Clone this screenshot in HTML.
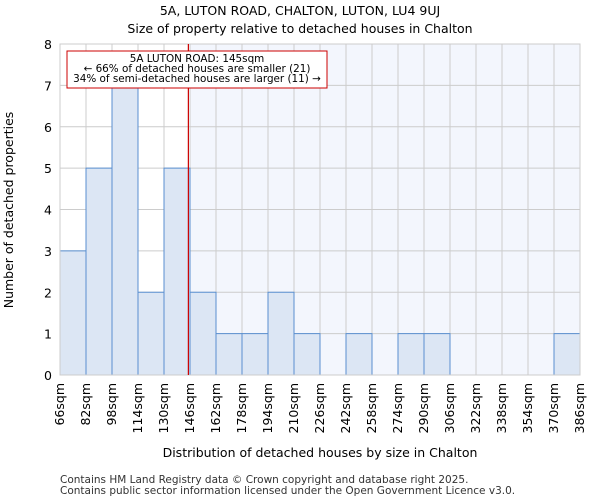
<!DOCTYPE html>
<html><head><meta charset="utf-8">
<style>body{margin:0;background:#fff;font-family:"DejaVu Sans","Liberation Sans",sans-serif}</style></head>
<body>
<svg id="chart" width="600" height="500" xmlns="http://www.w3.org/2000/svg" font-family="DejaVu Sans, Liberation Sans, sans-serif">
<text x="300" y="15" text-anchor="middle" font-size="12.5">5A, LUTON ROAD, CHALTON, LUTON, LU4 9UJ</text>
<text x="300" y="33" text-anchor="middle" font-size="12.5">Size of property relative to detached houses in Chalton</text>
<g id="plot"></g>
<text x="320" y="457" text-anchor="middle" font-size="12.5">Distribution of detached houses by size in Chalton</text>
<text x="13" y="210" text-anchor="middle" font-size="12.5" transform="rotate(-90 13 210)">Number of detached properties</text>
<text x="60" y="483" font-size="10.5" fill="#333">Contains HM Land Registry data © Crown copyright and database right 2025.</text>
<text x="60" y="494" font-size="10.5" fill="#333">Contains public sector information licensed under the Open Government Licence v3.0.</text>
</svg>
<script>
const binStarts=[66,82,98,114,130,146,162,178,194,210,226,242,258,274,290,306,322,338,354,370];
const counts=[3,5,7,2,5,2,1,1,2,1,0,1,0,1,1,0,0,0,0,1];
const xTickLabels=["66sqm","82sqm","98sqm","114sqm","130sqm","146sqm","162sqm","178sqm","194sqm","210sqm","226sqm","242sqm","258sqm","274sqm","290sqm","306sqm","322sqm","338sqm","354sqm","370sqm","386sqm"];
const yTicks=[0,1,2,3,4,5,6,7,8];
const propertySize=145;
const binWidth=16;
const X0=60,X1=580,Y0=375,Y1=44,xMin=66,xMax=386,yMax=8;
const sx=v=>X0+(v-xMin)/(xMax-xMin)*(X1-X0);
const sy=v=>Y0-v/yMax*(Y0-Y1);
const NS="http://www.w3.org/2000/svg";
const g=document.getElementById('plot');
function el(t,a,p){const e=document.createElementNS(NS,t);for(const k in a)e.setAttribute(k,a[k]);(p||g).appendChild(e);return e;}
const shadeStart=binStarts.find(b=>b>propertySize)||xMax;
let r=el('rect',{x:sx(shadeStart),y:Y1,width:X1-sx(shadeStart),height:Y0-Y1,fill:'#f3f6fd'});


yTicks.forEach(t=>{let l=el('line',{x1:X0,x2:X1,y1:sy(t),y2:sy(t),stroke:'#ccc','stroke-width':1});


let tx=el('text',{x:X0-8,y:sy(t)+5,'text-anchor':'end','font-size':12.5});tx.textContent=t;

});
xTickLabels.forEach((lab,i)=>{const v=xMin+i*binWidth;const x=sx(v);
let l=el('line',{x1:x,x2:x,y1:Y1,y2:Y0,stroke:'#ccc','stroke-width':1});


let tx=el('text',{x:x+4,y:Y0+8,'text-anchor':'end','font-size':12.5,transform:`rotate(-90 ${x+4} ${Y0+8})`});tx.textContent=lab;

});
counts.forEach((c,i)=>{if(!c)return;const x=sx(binStarts[i]),w=sx(binStarts[i]+binWidth)-x;
let b=el('rect',{x:x,y:sy(c),width:w,height:Y0-sy(c),fill:'#dce6f4',stroke:'#5a8fd0','stroke-width':1});

});
let ax=el('rect',{x:X0,y:Y1,width:X1-X0,height:Y0-Y1,fill:'none',stroke:'#ccc'});


let pl=el('line',{x1:sx(propertySize),x2:sx(propertySize),y1:Y1,y2:Y0,stroke:'#cc0000','stroke-width':1.2});


let box=el('rect',{x:67,y:51,width:260,height:37,fill:'#fff',stroke:'#cc0000','stroke-width':1});


["5A LUTON ROAD: 145sqm","← 66% of detached houses are smaller (21)","34% of semi-detached houses are larger (11) →"].forEach((s,i)=>{
let t=el('text',{x:197,y:62+i*10,'text-anchor':'middle','font-size':10.4});t.textContent=s;

});
</script>
</body></html>
